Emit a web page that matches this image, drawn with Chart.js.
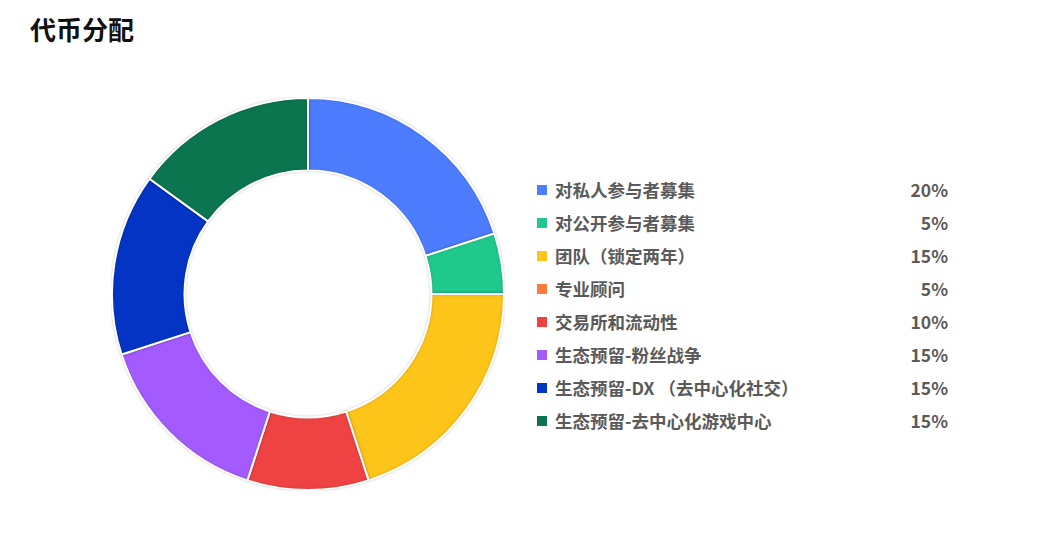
<!DOCTYPE html>
<html>
<head>
<meta charset="utf-8">
<script src="https://cdn.jsdelivr.net/npm/chart.js@4.4.1/dist/chart.umd.min.js"></script>
<style>
  body { margin: 0; background: #fff; font-family: "Noto Sans CJK SC", "Noto Sans", sans-serif; }
  #title { position: absolute; left: 30px; top: 10px; font-size: 26px; font-weight: bold; color: #111; margin: 0; }
  #wrap { position: absolute; left: 111px; top: 97px; width: 394px; height: 394px; }
  #legend { position: absolute; left: 537px; top: 177px; width: 411px; }
  .row { position: relative; height: 33px; line-height: 26px; font-size: 17.5px; font-weight: bold; color: #5a5a5a; }
  .box { position: absolute; left: 0; top: 8px; width: 10px; height: 10px; }
  .name { position: absolute; left: 18px; top: 0; white-space: nowrap; }
  .pct { position: absolute; right: 0; top: 0; }
</style>
</head>
<body>
<h1 id="title">代币分配</h1>
<div id="wrap"><canvas id="myChart"></canvas></div>
<div id="legend"></div>
<script>
// legend categories and their percentages as printed
const labels = [
  '对私人参与者募集',
  '对公开参与者募集',
  '团队（锁定两年）',
  '专业顾问',
  '交易所和流动性',
  '生态预留-粉丝战争',
  '生态预留-DX （去中心化社交）',
  '生态预留-去中心化游戏中心'
];
const legendPercents = ['20%', '5%', '15%', '5%', '10%', '15%', '15%', '15%'];

// slice sizes as they are drawn in the picture (yellow covers 20%, orange not visible)
const sliceValues = [20, 5, 20, 0, 10, 15, 15, 15];

const colors = ['#4d7cfe', '#1ec98b', '#fdc419', '#fb7b3a', '#ef4343', '#a35bff', '#0434c4', '#0b7550'];

// soft halo round the ring
const shadow = {
  id: 'shadow',
  beforeDatasetDraw(chart) {
    const c = chart.ctx;
    c.save();
    c.shadowColor = 'rgba(0,0,0,0.18)';
    c.shadowBlur = 3;
  },
  afterDatasetDraw(chart) {
    chart.ctx.restore();
  }
};

const myChart = new Chart(document.getElementById('myChart'), {
  type: 'doughnut',
  data: {
    labels: labels,
    datasets: [{
      data: sliceValues,
      backgroundColor: colors,
      borderColor: '#ffffff',
      borderWidth: sliceValues.map(v => v === 0 ? 0 : 2)
    }]
  },
  options: {
    responsive: true,
    maintainAspectRatio: false,
    animation: false,
    cutout: '63%',
    plugins: {
      legend: { display: false },
      tooltip: { enabled: false }
    }
  },
  plugins: [shadow]
});

// html legend
const legend = document.getElementById('legend');
labels.forEach((name, i) => {
  const row = document.createElement('div');
  row.className = 'row';
  row.innerHTML = '<span class="box" style="background:' + colors[i] + '"></span>' +
    '<span class="name">' + name + '</span>' +
    '<span class="pct">' + legendPercents[i] + '</span>';
  legend.appendChild(row);
});
</script>
</body>
</html>
